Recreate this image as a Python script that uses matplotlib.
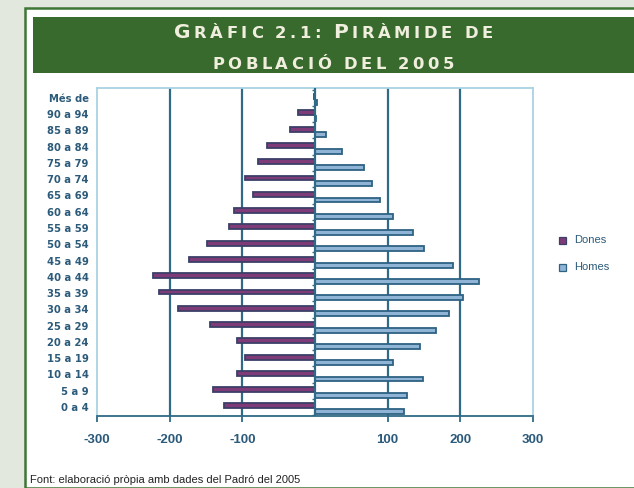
import numpy as np
import matplotlib as mpl
import matplotlib.pyplot as plt
from matplotlib.patches import Rectangle

# dades (centenars de persones per edat)
edats = ['0 a 4', '5 a 9', '10 a 14', '15 a 19', '20 a 24', '25 a 29', '30 a 34',
         '35 a 39', '40 a 44', '45 a 49', '50 a 54', '55 a 59', '60 a 64', '65 a 69',
         '70 a 74', '75 a 79', '80 a 84', '85 a 89', '90 a 94', 'Més de']
dones = [-125, -141, -108, -97, -108, -145, -188, -215, -223, -174, -149, -118,
         -111, -85, -97, -78, -66, -35, -23, -2]
homes = [123, 127, 148, 107, 144, 167, 185, 203, 226, 190, 150, 135, 107, 89,
         78, 67, 37, 15, 2, 3]
xticks = [-300, -200, -100, 100, 200, 300]
grid_x = [-200, -100, 100, 200]

teal = '#2f6a86'
txt_blue = '#2b5a7a'
light = '#a9d2e2'

fig = plt.figure(figsize=(6.34, 4.88), dpi=100, facecolor='#e2e8de')

# panell blanc amb vora verda
fig.patches.append(Rectangle((25 / 634, 0), 1, 1 - 8 / 488, transform=fig.transFigure,
                             facecolor='white', edgecolor='#3f7535', linewidth=1.8, zorder=0))
fig.patches.append(Rectangle((33 / 634, 1 - 73 / 488), 1, 56 / 488, transform=fig.transFigure,
                             facecolor='#386a2e', edgecolor='none', zorder=1))


def small_caps(y, s, big, small, cx=333, track=3.6):
    r = fig.canvas.get_renderer()
    items = []
    for ch in s:
        if ch == ' ':
            items.append((None, small * 0.3 * 100 / 72))
            continue
        size = big if ch.isupper() else small
        t = fig.text(0, y, ch.upper(), fontsize=size, family='DejaVu Sans', weight='bold',
                     color='#f0eedc', va='baseline', ha='left', zorder=3)
        items.append((t, t.get_window_extent(r).width))
    total = sum(w for _, w in items) + track * (len(items) - 1)
    x = cx - total / 2
    for t, w in items:
        if t is not None:
            t.set_x(x / 634)
        x += w + track


small_caps(1 - 38 / 488, 'Gràfic 2.1: Piràmide de', 14.5, 11.8)
small_caps(1 - 69 / 488, 'població del 2005', 14.5, 11.8)

ax = fig.add_axes([97 / 634, 1 - 416 / 488, 436 / 634, 328 / 488])
ax.set_zorder(2)
y = np.arange(len(edats))
ax.barh(y + 0.07, dones, height=0.3, color='#7e3b78', edgecolor='#3b4068', linewidth=1.3, zorder=3)
ax.barh(y - 0.28, homes, height=0.3, color='#90b4d6', edgecolor='#2d6282', linewidth=1.3, zorder=3)

for gx in grid_x:
    ax.axvline(gx, color=teal, linewidth=1.6, zorder=1)
ax.axvline(0, color=teal, linewidth=1.6, zorder=4)
ax.hlines(np.arange(len(edats) + 1) - 0.5, -4, 0, color=teal, linewidth=1.0, zorder=4)

ax.set_xlim(-300, 300)
ax.set_ylim(-0.55, 19.6)
ax.set_xticks(xticks)
ax.set_xticklabels([str(v) for v in xticks], fontsize=9.5, color=txt_blue,
                   family='Liberation Sans', weight='bold')
ax.tick_params(axis='x', length=4, width=1.3, color=teal, pad=9)
ax.set_yticks(y)
ax.set_yticklabels(edats, fontsize=7.2, color=txt_blue, family='DejaVu Sans', weight='bold')
ax.tick_params(axis='y', length=0, pad=6)

for s in ['top', 'left', 'right']:
    ax.spines[s].set_color(light)
    ax.spines[s].set_linewidth(1.3)
ax.spines['bottom'].set_color(teal)
ax.spines['bottom'].set_linewidth(1.3)

# llegenda
fig.patches.append(Rectangle((559 / 634, 1 - 244 / 488), 7 / 634, 7 / 488, transform=fig.transFigure,
                             facecolor='#7e3b78', edgecolor='#3b4068', linewidth=0.9, zorder=3))
fig.patches.append(Rectangle((559 / 634, 1 - 271 / 488), 7 / 634, 7 / 488, transform=fig.transFigure,
                             facecolor='#90b4d6', edgecolor='#2d6282', linewidth=0.9, zorder=3))
fig.text(574 / 634, 1 - 240 / 488, 'Dones', fontsize=8, color=txt_blue, va='center',
         family='Liberation Sans')
fig.text(574 / 634, 1 - 267 / 488, 'Homes', fontsize=8, color=txt_blue, va='center',
         family='Liberation Sans')

fig.text(30 / 634, 1 - 480 / 488, 'Font: elaboració pròpia amb dades del Padró del 2005',
         fontsize=8, color='#222222', va='center', family='Liberation Sans')

plt.savefig('out.png', dpi=100, facecolor=fig.get_facecolor())
